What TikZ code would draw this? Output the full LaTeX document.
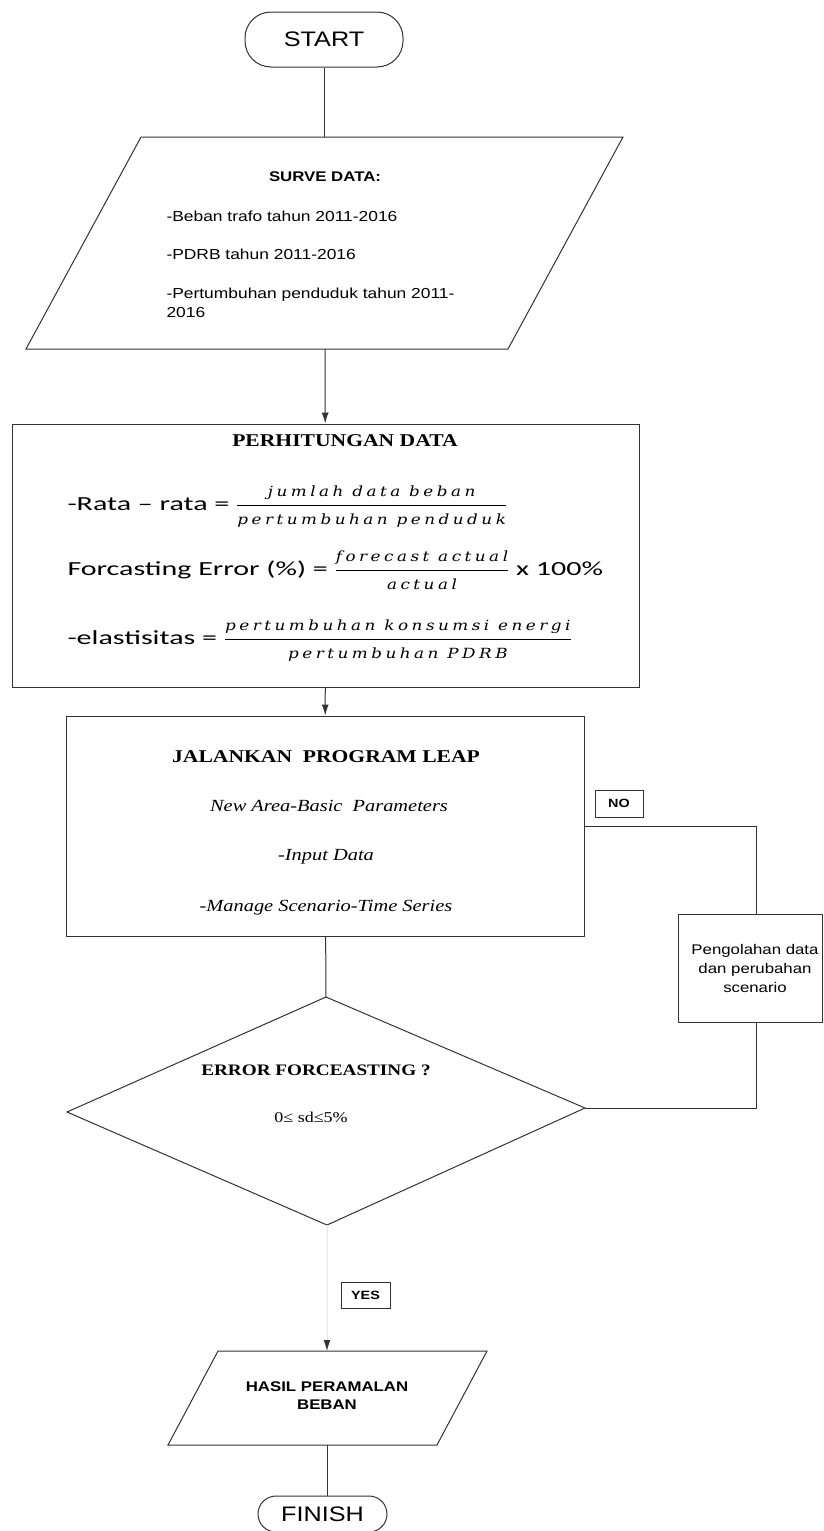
\documentclass[tikz,border=0pt]{standalone}
\usepackage{fontspec}
\setmainfont{Liberation Serif}[FakeStretch=1.2]
\newfontfamily\arialfont{Liberation Sans}[FakeStretch=1.2]
\newfontfamily\calibrifont{Carlito}[FakeStretch=1.5]
\newfontfamily\eqfont{DejaVu Serif}[FakeStretch=1.2,LetterSpace=25]
\newcommand{\eqtxt}{\eqfont\itshape\fontsize{14}{16}\selectfont}
\usetikzlibrary{arrows.meta}

\tikzset{
  line/.style={draw=black!80, line width=1pt},
  arr/.style={line, -{Latex[length=11pt,width=7pt]}},
  box/.style={draw=black!80, line width=1pt, rectangle, inner sep=0pt},
  term/.style={draw=black!80, line width=1pt, rectangle, inner sep=0pt,
    font=\arialfont\fontsize{21}{25}\selectfont},
  tag/.style={draw=black!80, line width=1pt, inner sep=0pt,
    font=\arialfont\bfseries\fontsize{12}{14}\selectfont},
  sans/.style={font=\arialfont\fontsize{14.5}{17}\selectfont},
}

\begin{document}
\begin{tikzpicture}[x=1pt, y=-1pt]

    \useasboundingbox (0,0) rectangle (824,1531);

    % START terminal
    \node[term, rounded corners=26pt, minimum width=158pt, minimum height=55pt] (start) at (324,39.5) {START};

    % data input parallelogram, corners A B C D clockwise from top left
    \coordinate (sA) at (141,137);
    \coordinate (sB) at (623,137);
    \coordinate (sC) at (508,349);
    \coordinate (sD) at (26,349);
    \coordinate (sTop) at (324,137);
    \coordinate (sBot) at (325,349);
    \draw[line] (sA) -- (sB) -- (sC) -- (sD) -- cycle;

    \node[font=\arialfont\bfseries\fontsize{14}{16}\selectfont] (surveTitle) at (325,177) {SURVE DATA:};
    \node[sans, anchor=base west] (beban) at (163,221) {-Beban trafo tahun 2011-2016};
    \node[sans, anchor=base west] (pdrb) at (163,259) {-PDRB tahun 2011-2016};
    \node[sans, anchor=base west] (penduduk) at (163,298) {-Pertumbuhan penduduk tahun 2011-};
    \node[sans, anchor=base west] (pendudukB) at (163,317) {2016};

    % calculation box
    \node[box, minimum width=627pt, minimum height=263pt] (hitung) at (325.5,555.5) {};
    \node[font=\bfseries\fontsize{18}{20}\selectfont] (hitungTitle) at (345,441) {PERHITUNGAN DATA};

    \node[anchor=west, font=\calibrifont\fontsize{20}{24}\selectfont] (rata) at (64,507)
      {-Rata – rata = $\displaystyle\frac{\mbox{\eqtxt jumlah data beban}}{\mbox{\eqtxt pertumbuhan penduduk}}$};
    \node[anchor=west, font=\calibrifont\fontsize{20}{24}\selectfont] (error) at (64,570)
      {Forcasting Error (\%) = $\displaystyle\frac{\mbox{\eqtxt forecast actual}}{\mbox{\eqtxt actual}}$ x 100\%};
    \node[anchor=west, font=\calibrifont\fontsize{20}{24}\selectfont] (elastis) at (64,641)
      {-elastisitas = $\displaystyle\frac{\mbox{\eqtxt pertumbuhan konsumsi energi}}{\mbox{\eqtxt pertumbuhan PDRB}}$};

    % LEAP box
    \node[box, minimum width=518pt, minimum height=220pt] (leap) at (325,826) {};
    \node[font=\bfseries\fontsize{18}{20}\selectfont] (leapTitle) at (326,757) {JALANKAN\ \ PROGRAM LEAP};
    \node[font=\itshape\fontsize{17}{20}\selectfont] (area) at (329,806) {New Area-Basic\ \ Parameters};
    \node[font=\itshape\fontsize{17}{20}\selectfont] (input) at (326,857) {-Input Data};
    \node[font=\itshape\fontsize{17}{20}\selectfont] (manage) at (326,908) {-Manage Scenario-Time Series};

    % decision diamond
    \coordinate (dT) at (326,997);
    \coordinate (dL) at (67,1112);
    \coordinate (dR) at (585,1108);
    \coordinate (dB) at (327,1225);
    \draw[line] (dT) -- (dR) -- (dB) -- (dL) -- cycle;
    \node[font=\bfseries\fontsize{16}{18}\selectfont] (errTitle) at (316,1070) {ERROR FORCEASTING ?};
    \node[font=\fontsize{15}{17}\selectfont] (errRange) at (311,1117) {0≤ sd≤5\%};

    % loop back box
    \node[box, sans, font=\arialfont\fontsize{14}{19}\selectfont, align=center,
          minimum width=144pt, minimum height=108pt] (olah) at (750,968)
      {\hspace*{10pt}Pengolahan data\\\hspace*{10pt}dan perubahan\\\hspace*{10pt}scenario};
    \coordinate (nBend) at (756,826);
    \node[tag, minimum width=48pt, minimum height=27pt] (no) at (619,803.5) {NO};

    % result parallelogram
    \coordinate (hA) at (218,1351);
    \coordinate (hB) at (487,1351);
    \coordinate (hC) at (437,1445);
    \coordinate (hD) at (168,1445);
    \coordinate (hTop) at (327,1351);
    \coordinate (hBot) at (327,1445);
    \draw[line] (hA) -- (hB) -- (hC) -- (hD) -- cycle;
    \node[font=\arialfont\bfseries\fontsize{14}{18}\selectfont, align=center] (hasil) at (327,1396) {HASIL PERAMALAN\\BEBAN};
    \node[tag, minimum width=49pt, minimum height=26pt] (yes) at (365.5,1295.5) {YES};

    % FINISH terminal
    \node[term, rounded corners=18pt, minimum width=129pt, minimum height=36pt] (finish) at (322.5,1514) {FINISH};

    % connectors
    \draw[line] (start.south) -- (sTop);
    \draw[arr] (sBot) -- (hitung);
    \draw[arr] (hitung) -- (leap);
    \draw[line] (leap) -- (dT);
    \draw[line] (leap.east) -| (nBend |- olah.north);
    \draw[line] (nBend |- olah.south) |- (dR);
    \draw[line, draw=black!10, -{Latex[length=11pt,width=7pt,color=black!80]}] (dB) -- (hTop);
    \draw[line] (hBot) -- (hBot |- finish.north);

\end{tikzpicture}
\end{document}
